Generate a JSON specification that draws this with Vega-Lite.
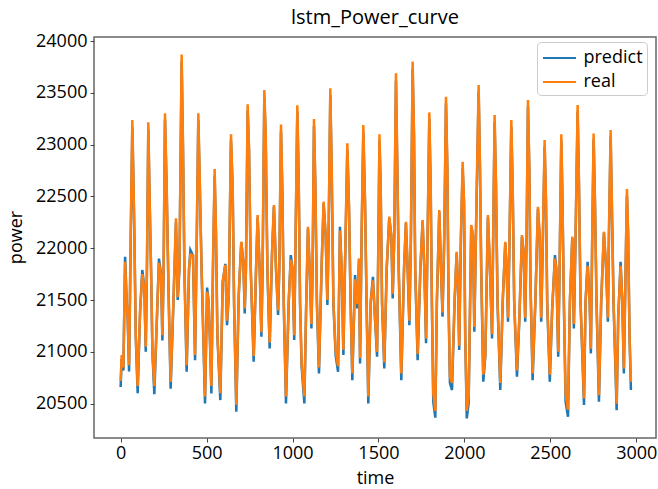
{
  "$schema": "https://vega.github.io/schema/vega-lite/v6.json",
  "autosize": "none",
  "width": 562,
  "height": 401,
  "padding": {"left": 94, "top": 37, "right": 2, "bottom": 51},
  "background": "white",
  "title": {"text": "lstm_Power_curve", "fontSize": 20, "font": "Open Sans", "fontWeight": "normal", "color": "black", "offset": 4},
  "config": {
    "font": "Open Sans",
    "view": {"stroke": "#666666", "strokeWidth": 1.5},
    "axis": {"grid": false, "domain": false, "tickColor": "#444444", "tickSize": 4, "tickWidth": 1, "labelFontSize": 18, "labelColor": "black", "titleFontSize": 18, "titleFontWeight": "normal", "titleColor": "black", "labelFont": "Open Sans", "titleFont": "Open Sans"}
  },
  "data": {"values": [
    {"t":0,"real":20720,"predict":20660},{"t":6,"real":20970,"predict":20930},{"t":16,"real":20850,"predict":20820},{"t":26,"real":21870,"predict":21918},{"t":35,"real":21480,"predict":21500},{"t":41,"real":21330,"predict":21320},{"t":49,"real":20870,"predict":20810},{"t":58,"real":22060,"predict":22000},{"t":68,"real":23238,"predict":23170},{"t":74,"real":22707,"predict":22680},{"t":80,"real":22128,"predict":22110},{"t":88,"real":21162,"predict":21150},{"t":99,"real":20670,"predict":20600},{"t":113,"real":21390,"predict":21380},{"t":126,"real":21750,"predict":21790},{"t":138,"real":21610,"predict":21620},{"t":146,"real":21050,"predict":21000},{"t":153,"real":21800,"predict":21780},{"t":161,"real":23216,"predict":23150},{"t":169,"real":22450,"predict":22430},{"t":177,"real":21806,"predict":21790},{"t":185,"real":21000,"predict":20990},{"t":196,"real":20670,"predict":20590},{"t":210,"real":21280,"predict":21270},{"t":223,"real":21860,"predict":21900},{"t":235,"real":21740,"predict":21750},{"t":243,"real":21160,"predict":21110},{"t":250,"real":21800,"predict":21780},{"t":258,"real":23303,"predict":23240},{"t":268,"real":22578,"predict":22560},{"t":278,"real":21645,"predict":21640},{"t":291,"real":20710,"predict":20645},{"t":307,"real":21480,"predict":21470},{"t":322,"real":22289,"predict":22250},{"t":332,"real":21530,"predict":21500},{"t":342,"real":21806,"predict":21790},{"t":355,"real":23872,"predict":23800},{"t":363,"real":22965,"predict":22940},{"t":371,"real":21806,"predict":21790},{"t":384,"real":20870,"predict":20808},{"t":398,"real":21806,"predict":21800},{"t":406,"real":21940,"predict":21983},{"t":421,"real":21934,"predict":21930},{"t":433,"real":20970,"predict":20920},{"t":443,"real":22128,"predict":22100},{"t":452,"real":23303,"predict":23240},{"t":462,"real":22515,"predict":22500},{"t":471,"real":21806,"predict":21790},{"t":491,"real":20570,"predict":20502},{"t":503,"real":21580,"predict":21620},{"t":512,"real":21484,"predict":21480},{"t":520,"real":21100,"predict":21090},{"t":528,"real":20670,"predict":20599},{"t":537,"real":21806,"predict":21790},{"t":547,"real":22765,"predict":22700},{"t":555,"real":22128,"predict":22110},{"t":563,"real":21162,"predict":21150},{"t":580,"real":20600,"predict":20534},{"t":594,"real":21680,"predict":21670},{"t":609,"real":21838,"predict":21850},{"t":619,"real":21300,"predict":21258},{"t":629,"real":21548,"predict":21540},{"t":642,"real":23100,"predict":23040},{"t":652,"real":22578,"predict":22560},{"t":660,"real":21484,"predict":21470},{"t":673,"real":20490,"predict":20421},{"t":687,"real":21548,"predict":21540},{"t":702,"real":22063,"predict":22060},{"t":714,"real":21870,"predict":21860},{"t":722,"real":21420,"predict":21371},{"t":729,"real":21806,"predict":21790},{"t":739,"real":23390,"predict":23330},{"t":747,"real":22965,"predict":22940},{"t":757,"real":21806,"predict":21790},{"t":774,"real":20960,"predict":20904},{"t":788,"real":21806,"predict":21800},{"t":797,"real":22321,"predict":22300},{"t":809,"real":21806,"predict":21800},{"t":819,"real":21190,"predict":21146},{"t":826,"real":21806,"predict":21790},{"t":836,"real":23528,"predict":23460},{"t":844,"real":23093,"predict":23070},{"t":854,"real":21806,"predict":21790},{"t":867,"real":21090,"predict":21033},{"t":881,"real":21967,"predict":21960},{"t":892,"real":22417,"predict":22400},{"t":904,"real":21806,"predict":21800},{"t":916,"real":21400,"predict":21355},{"t":923,"real":21806,"predict":21790},{"t":933,"real":23196,"predict":23130},{"t":941,"real":22546,"predict":22530},{"t":949,"real":21484,"predict":21470},{"t":962,"real":20570,"predict":20502},{"t":978,"real":21484,"predict":21480},{"t":990,"real":21890,"predict":21934},{"t":1000,"real":21806,"predict":21800},{"t":1010,"real":21160,"predict":21114},{"t":1018,"real":22128,"predict":22100},{"t":1028,"real":23380,"predict":23320},{"t":1036,"real":22675,"predict":22650},{"t":1044,"real":21484,"predict":21470},{"t":1053,"real":20890,"predict":20860},{"t":1069,"real":20570,"predict":20502},{"t":1080,"real":21484,"predict":21480},{"t":1090,"real":22208,"predict":22190},{"t":1100,"real":21806,"predict":21800},{"t":1110,"real":21270,"predict":21226},{"t":1117,"real":21806,"predict":21790},{"t":1125,"real":23248,"predict":23180},{"t":1133,"real":22610,"predict":22590},{"t":1142,"real":21484,"predict":21470},{"t":1154,"real":20850,"predict":20792},{"t":1170,"real":21870,"predict":21860},{"t":1181,"real":22450,"predict":22430},{"t":1193,"real":22128,"predict":22120},{"t":1203,"real":21500,"predict":21452},{"t":1210,"real":22128,"predict":22100},{"t":1220,"real":23544,"predict":23480},{"t":1228,"real":22771,"predict":22750},{"t":1238,"real":21484,"predict":21470},{"t":1251,"real":21010,"predict":20969},{"t":1265,"real":20860,"predict":20808},{"t":1276,"real":22170,"predict":22208},{"t":1286,"real":21806,"predict":21800},{"t":1296,"real":21020,"predict":20969},{"t":1305,"real":21806,"predict":21790},{"t":1319,"real":23013,"predict":22950},{"t":1329,"real":22385,"predict":22370},{"t":1338,"real":21484,"predict":21470},{"t":1348,"real":20790,"predict":20727},{"t":1364,"real":21700,"predict":21741},{"t":1377,"real":21460,"predict":21420},{"t":1387,"real":21902,"predict":21890},{"t":1393,"real":20940,"predict":20888},{"t":1402,"real":22128,"predict":22100},{"t":1412,"real":23190,"predict":23120},{"t":1422,"real":22450,"predict":22430},{"t":1431,"real":21484,"predict":21470},{"t":1441,"real":20570,"predict":20502},{"t":1455,"real":21484,"predict":21480},{"t":1468,"real":21690,"predict":21725},{"t":1480,"real":21323,"predict":21320},{"t":1492,"real":21000,"predict":20953},{"t":1500,"real":22128,"predict":22100},{"t":1506,"real":23100,"predict":23040},{"t":1513,"real":22610,"predict":22590},{"t":1521,"real":21484,"predict":21470},{"t":1534,"real":20900,"predict":20840},{"t":1548,"real":21806,"predict":21800},{"t":1563,"real":22305,"predict":22290},{"t":1575,"real":22128,"predict":22120},{"t":1583,"real":21560,"predict":21516},{"t":1592,"real":22128,"predict":22100},{"t":1602,"real":23689,"predict":23620},{"t":1610,"real":22771,"predict":22750},{"t":1618,"real":21806,"predict":21790},{"t":1633,"real":20790,"predict":20727},{"t":1649,"real":21806,"predict":21800},{"t":1660,"real":22256,"predict":22240},{"t":1670,"real":21806,"predict":21800},{"t":1680,"real":21300,"predict":21258},{"t":1689,"real":22128,"predict":22100},{"t":1699,"real":23802,"predict":23730},{"t":1707,"real":23093,"predict":23070},{"t":1714,"real":21806,"predict":21790},{"t":1728,"real":20980,"predict":20920},{"t":1744,"real":21806,"predict":21800},{"t":1757,"real":22272,"predict":22260},{"t":1767,"real":21806,"predict":21800},{"t":1777,"real":21130,"predict":21082},{"t":1786,"real":22128,"predict":22100},{"t":1796,"real":23312,"predict":23250},{"t":1804,"real":22610,"predict":22590},{"t":1811,"real":21484,"predict":21470},{"t":1819,"real":20600,"predict":20520},{"t":1831,"real":20430,"predict":20364},{"t":1840,"real":21484,"predict":21480},{"t":1854,"real":22369,"predict":22350},{"t":1864,"real":21806,"predict":21800},{"t":1873,"real":21380,"predict":21339},{"t":1883,"real":22128,"predict":22100},{"t":1893,"real":23463,"predict":23400},{"t":1901,"real":22771,"predict":22750},{"t":1908,"real":21484,"predict":21470},{"t":1916,"real":20760,"predict":20700},{"t":1928,"real":20700,"predict":20631},{"t":1943,"real":21484,"predict":21480},{"t":1955,"real":21967,"predict":21950},{"t":1963,"real":21645,"predict":21640},{"t":1970,"real":21060,"predict":21017},{"t":1980,"real":22128,"predict":22100},{"t":1990,"real":22836,"predict":22770},{"t":1998,"real":22450,"predict":22430},{"t":2005,"real":21162,"predict":21150},{"t":2014,"real":20430,"predict":20357},{"t":2025,"real":20580,"predict":20510},{"t":2040,"real":22224,"predict":22210},{"t":2050,"real":22128,"predict":22120},{"t":2058,"real":21240,"predict":21194},{"t":2067,"real":22128,"predict":22100},{"t":2083,"real":23576,"predict":23510},{"t":2091,"real":22771,"predict":22750},{"t":2098,"real":21806,"predict":21790},{"t":2110,"real":20780,"predict":20711},{"t":2122,"real":20969,"predict":20960},{"t":2137,"real":22321,"predict":22300},{"t":2149,"real":21806,"predict":21800},{"t":2161,"real":21170,"predict":21130},{"t":2170,"real":22450,"predict":22420},{"t":2176,"real":23287,"predict":23220},{"t":2184,"real":22610,"predict":22590},{"t":2193,"real":21484,"predict":21470},{"t":2209,"real":20700,"predict":20631},{"t":2223,"real":21484,"predict":21480},{"t":2238,"real":22063,"predict":22050},{"t":2246,"real":21806,"predict":21800},{"t":2254,"real":21330,"predict":21291},{"t":2263,"real":22128,"predict":22100},{"t":2273,"real":23238,"predict":23170},{"t":2281,"real":22610,"predict":22590},{"t":2290,"real":21484,"predict":21470},{"t":2306,"real":20820,"predict":20759},{"t":2320,"real":21323,"predict":21320},{"t":2335,"real":22128,"predict":22110},{"t":2345,"real":21967,"predict":21960},{"t":2354,"real":21330,"predict":21291},{"t":2362,"real":22128,"predict":22100},{"t":2370,"real":23431,"predict":23370},{"t":2378,"real":22771,"predict":22750},{"t":2385,"real":21645,"predict":21630},{"t":2397,"real":20790,"predict":20727},{"t":2413,"real":21484,"predict":21480},{"t":2428,"real":22401,"predict":22380},{"t":2438,"real":22128,"predict":22120},{"t":2447,"real":21330,"predict":21291},{"t":2457,"real":22128,"predict":22100},{"t":2467,"real":23045,"predict":22980},{"t":2475,"real":22450,"predict":22430},{"t":2482,"real":21484,"predict":21470},{"t":2497,"real":20780,"predict":20711},{"t":2511,"real":21420,"predict":21415},{"t":2527,"real":21900,"predict":21934},{"t":2535,"real":21806,"predict":21800},{"t":2546,"real":21000,"predict":20953},{"t":2554,"real":21806,"predict":21790},{"t":2564,"real":23100,"predict":23040},{"t":2571,"real":22450,"predict":22430},{"t":2579,"real":21484,"predict":21470},{"t":2589,"real":20600,"predict":20520},{"t":2603,"real":20440,"predict":20373},{"t":2614,"real":21484,"predict":21480},{"t":2628,"real":22112,"predict":22100},{"t":2637,"real":21270,"predict":21226},{"t":2647,"real":22128,"predict":22100},{"t":2659,"real":23383,"predict":23320},{"t":2667,"real":22610,"predict":22590},{"t":2676,"real":21484,"predict":21470},{"t":2696,"real":20550,"predict":20486},{"t":2705,"real":21484,"predict":21480},{"t":2717,"real":21830,"predict":21870},{"t":2729,"real":21484,"predict":21480},{"t":2736,"real":21030,"predict":20985},{"t":2744,"real":22128,"predict":22100},{"t":2752,"real":23109,"predict":23050},{"t":2760,"real":22450,"predict":22430},{"t":2769,"real":21484,"predict":21470},{"t":2783,"real":20580,"predict":20518},{"t":2796,"real":21484,"predict":21480},{"t":2812,"real":22160,"predict":22150},{"t":2825,"real":21806,"predict":21800},{"t":2835,"real":21330,"predict":21291},{"t":2841,"real":22128,"predict":22100},{"t":2851,"real":23141,"predict":23080},{"t":2858,"real":22450,"predict":22430},{"t":2868,"real":21484,"predict":21470},{"t":2886,"real":20500,"predict":20437},{"t":2895,"real":21323,"predict":21320},{"t":2909,"real":21830,"predict":21870},{"t":2919,"real":21484,"predict":21480},{"t":2928,"real":20840,"predict":20792},{"t":2938,"real":21806,"predict":21790},{"t":2946,"real":22572,"predict":22510},{"t":2953,"real":22128,"predict":22110},{"t":2961,"real":21162,"predict":21150},{"t":2969,"real":20711,"predict":20631}
  ]},
  "encoding": {
    "x": {"field": "t", "type": "quantitative", "scale": {"domain": [-155, 3115], "nice": false, "zero": false},
      "axis": {"title": "time", "values": [0, 500, 1000, 1500, 2000, 2500, 3000], "format": "d", "labelPadding": 2, "titleY": 40, "titleBaseline": "middle", "labelFlush": false}}
  },
  "layer": [
    {
      "mark": {"type": "line", "strokeWidth": 2.5, "interpolate": "linear"},
      "encoding": {
        "y": {"field": "predict", "type": "quantitative", "scale": {"domain": [20168, 24040], "nice": false, "zero": false},
          "axis": {"title": "power", "values": [20500, 21000, 21500, 22000, 22500, 23000, 23500, 24000], "format": "d", "labelPadding": 3, "titleX": -78, "titleY": 200, "titleBaseline": "middle", "titleAngle": -90}},
        "color": {"datum": "predict", "type": "nominal",
          "scale": {"domain": ["predict", "real"], "range": ["#1f77b4", "#ff7f0e"]},
          "legend": {"title": null, "orient": "none", "legendX": 443, "legendY": 5, "symbolType": "M-1.5,0H1.5", "symbolSize": 484, "symbolStrokeWidth": 2, "symbolOffset": 6.5, "labelFontSize": 18, "labelFont": "Open Sans", "labelColor": "black", "padding": 4, "rowPadding": 3, "labelOffset": 12, "fillColor": "rgba(255,255,255,0.8)", "strokeColor": "#cccccc", "cornerRadius": 4}}
      }
    },
    {
      "mark": {"type": "line", "strokeWidth": 2.5, "interpolate": "linear"},
      "encoding": {
        "y": {"field": "real", "type": "quantitative"},
        "color": {"datum": "real", "type": "nominal"}
      }
    }
  ]
}
